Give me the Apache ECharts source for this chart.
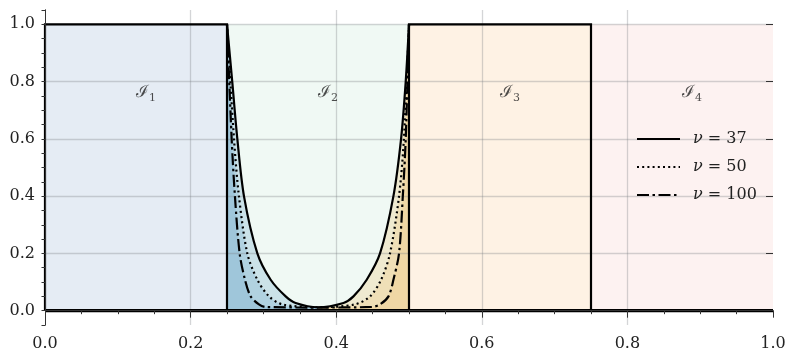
<!DOCTYPE html>
<html>
<head>
<meta charset="utf-8">
<script src="https://cdn.jsdelivr.net/npm/echarts@6/dist/echarts.min.js"></script>
<style>
html, body { margin: 0; padding: 0; background: #fff; }
#chart { width: 797px; height: 363px; }
</style>
</head>
<body>
<div id="chart"></div>
<script>
// intervals I1..I4
var regionNames = ['1', '2', '3', '4'];
var regionStart = [0, 0.25, 0.5, 0.75];
var regionEnd = [0.25, 0.5, 0.75, 1.0];
var regionLabelX = [0.125, 0.375, 0.625, 0.875];
var regionLabelY = [0.76, 0.76, 0.76, 0.76];

var gridX = [0.2, 0.4, 0.6, 0.8];
var gridY = [0.2, 0.4, 0.6, 0.8, 1.0];
var yTicks = [0, 0.2, 0.4, 0.6, 0.8, 1.0];

// ν values of the legend
var nuValues = [37, 50, 100];

// curve on I2, ν = 37 (solid)
var nu37X = [0.25, 0.2572, 0.2642, 0.2733, 0.2917, 0.31, 0.3306, 0.3443, 0.375,
             0.41, 0.4237, 0.4419, 0.4602, 0.4786, 0.4891, 0.4955, 0.5];
var nu37Y = [1.0, 0.8, 0.6, 0.4, 0.2, 0.108, 0.05, 0.027, 0.012,
             0.027, 0.05, 0.108, 0.2, 0.4, 0.6, 0.8, 1.0];

// ν = 50 (dotted)
var nu50X = [0.25, 0.2596, 0.2664, 0.2779, 0.2917, 0.3077, 0.326, 0.375,
             0.4258, 0.4465, 0.4616, 0.4739, 0.4863, 0.4930, 0.5];
var nu50Y = [1.0, 0.6, 0.4, 0.2, 0.108, 0.05, 0.022, 0.012,
             0.022, 0.05, 0.108, 0.2, 0.4, 0.6, 1.0];

// ν = 100 (dash-dot)
var nu100X = [0.25, 0.2564, 0.2609, 0.2674, 0.2747, 0.2825, 0.2939, 0.303, 0.375,
              0.4488, 0.4602, 0.4718, 0.4786, 0.4863, 0.4915, 0.4955, 0.5];
var nu100Y = [1.0, 0.6, 0.4, 0.2, 0.108, 0.05, 0.022, 0.013, 0.011,
              0.013, 0.022, 0.05, 0.108, 0.2, 0.4, 0.6, 1.0];

// indicator outlines of I1 and I3, and the zero line
var box1X = [0, 0, 0.25, 0.25];
var box1Y = [0, 1, 1, 0];
var box3X = [0.5, 0.5, 0.75, 0.75];
var box3Y = [0, 1, 1, 0];
var baseX = [0, 1];
var baseY = [0, 0];

var regionColors = ['#e5ecf4', '#f0f9f4', '#fef2e4', '#fdf2f1'];
var leftFill = 'rgba(120,172,205,0.30)';
var rightFill = 'rgba(238,198,125,0.30)';
var curveDash = ['solid', [2, 3.2], [12, 3.5, 2.5, 3.5]];
var serif = 'DejaVu Serif';
var smoothing = 0.3;

function pairs(xs, ys) {
	return xs.map(function(x, i) { return [x, ys[i]]; });
}

var curves = [pairs(nu37X, nu37Y), pairs(nu50X, nu50Y), pairs(nu100X, nu100Y)];

var series = [];

// coloured intervals
regionStart.forEach(function(s, i) {
	series.push({
		type: 'line', silent: true, symbol: 'none', z: 1,
		data: [[s, 1], [regionEnd[i], 1]],
		lineStyle: { width: 0 },
		areaStyle: { color: regionColors[i], opacity: 1 }
	});
});

// shaded parts under each curve
curves.forEach(function(c) {
	series.push({
		type: 'line', silent: true, symbol: 'none', z: 2, smooth: smoothing,
		data: c.filter(function(p) { return p[0] <= 0.375; }),
		lineStyle: { width: 0 },
		areaStyle: { color: leftFill, opacity: 1 }
	});
	series.push({
		type: 'line', silent: true, symbol: 'none', z: 2, smooth: smoothing,
		data: c.filter(function(p) { return p[0] >= 0.375; }),
		lineStyle: { width: 0 },
		areaStyle: { color: rightFill, opacity: 1 }
	});
});

// grid lines
series.push({
	type: 'line', silent: true, symbol: 'none', z: 3,
	data: [],
	markLine: {
		silent: true, symbol: 'none', z: 3, animation: false,
		label: { show: false },
		lineStyle: { color: 'rgba(120,125,130,0.32)', width: 1.3, type: 'solid' },
		data: gridX.map(function(v) { return { xAxis: v }; })
			.concat(gridY.map(function(v) { return { yAxis: v }; }))
	}
});

// black outlines
[[box1X, box1Y, 2.2], [box3X, box3Y, 2.2], [baseX, baseY, 3.2]].forEach(function(b) {
	series.push({
		type: 'line', silent: true, symbol: 'none', z: 6,
		data: pairs(b[0], b[1]),
		lineStyle: { color: '#000', width: b[2], join: 'miter', cap: 'butt' }
	});
});

// curves
curves.forEach(function(c, i) {
	series.push({
		name: 'ν=' + nuValues[i],
		type: 'line', silent: true, symbol: 'none', z: 7, smooth: smoothing,
		data: c,
		lineStyle: { color: '#000', width: 2.2, type: curveDash[i], cap: 'butt' }
	});
});

// interval labels
series.push({
	type: 'scatter', silent: true, z: 8, symbolSize: 0,
	data: pairs(regionLabelX, regionLabelY),
	label: {
		show: true, position: 'right', distance: 0,
		formatter: function(p) { return '{c|ℐ}{s|' + regionNames[p.dataIndex] + '}'; },
		rich: {
			c: { fontFamily: serif, fontSize: 17, color: '#222', lineHeight: 22 },
			s: { fontFamily: serif, fontSize: 11, color: '#222', lineHeight: 13, verticalAlign: 'bottom' }
		}
	}
});

var chart = echarts.init(document.getElementById('chart'));
var option = {
	animation: false,
	grid: { left: 45, right: 24, top: 10, bottom: 38 },
	legend: {
		orient: 'vertical', left: 636, top: 131, padding: 0,
		itemWidth: 43, itemHeight: 14, itemGap: 12,
		itemStyle: { opacity: 0 },
		data: nuValues.map(function(v) { return 'ν=' + v; }),
		formatter: function(name) { return '{i|ν} = ' + name.split('=')[1]; },
		textStyle: {
			fontFamily: serif, fontSize: 16, color: '#222', padding: [0, 0, 0, 8],
			rich: { i: { fontFamily: serif, fontSize: 16, fontStyle: 'italic', color: '#222' } }
		}
	},
	xAxis: [
		{
			type: 'value', position: 'bottom', min: 0, max: 1, interval: 0.2, z: 9,
			axisLine: { show: true, lineStyle: { color: '#333', width: 1 } },
			axisTick: { show: false },
			splitLine: { show: false },
			axisLabel: { fontFamily: serif, fontSize: 16, color: '#222', margin: 11,
				formatter: function(v) { return v.toFixed(1); } }
		},
		{
			type: 'value', position: 'top', min: 0, max: 1, interval: 0.2, z: 9,
			axisLine: { show: true, lineStyle: { color: '#333', width: 1 } },
			axisTick: { show: true, inside: true, length: 7, lineStyle: { color: '#333' } },
			minorTick: { show: true, splitNumber: 4, length: 3.5, lineStyle: { color: '#333' } },
			splitLine: { show: false },
			axisLabel: { show: false }
		}
	],
	yAxis: [
		{
			type: 'value', position: 'left', min: -0.05, max: 1.05, z: 9,
			axisLine: { show: true, lineStyle: { color: '#333', width: 1 } },
			axisTick: { show: false },
			splitLine: { show: false },
			axisLabel: { customValues: yTicks, fontFamily: serif, fontSize: 16, color: '#222', margin: 10,
				formatter: function(v) { return v.toFixed(1); } }
		},
		{
			type: 'value', position: 'right', min: -0.05, max: 1.05, interval: 0.05, z: 9,
			axisLine: { show: true, lineStyle: { color: '#333', width: 1 } },
			axisTick: { show: true, inside: true, length: 3.5, lineStyle: { color: '#333' } },
			splitLine: { show: false },
			axisLabel: { show: false }
		},
		{
			type: 'value', position: 'right', min: -0.05, max: 1.05, z: 9,
			axisLine: { show: false },
			axisTick: { show: true, inside: true, length: 7, customValues: yTicks, lineStyle: { color: '#333' } },
			splitLine: { show: false },
			axisLabel: { show: false, customValues: yTicks }
		}
	],
	series: series
};
chart.setOption(option);
</script>
</body>
</html>
